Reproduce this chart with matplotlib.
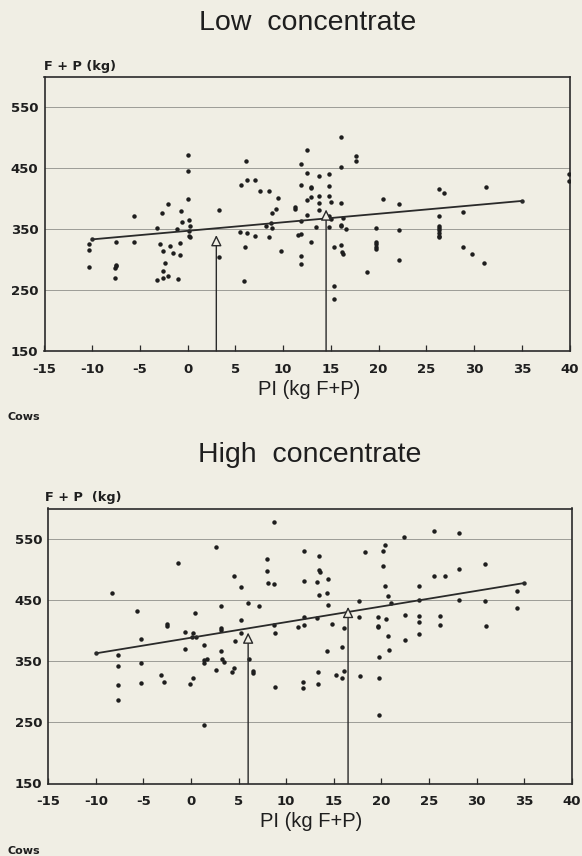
import matplotlib
matplotlib.use("Agg")
import matplotlib.pyplot as plt

plt.rcParams['axes.unicode_minus'] = False

# ---------------- data ----------------
low_x = [0.0, 0.0, 6.15, 6.18, 7.02, 5.59, 7.55, 8.53, 9.44, 0.0, -2.08, -5.65, -2.64, -0.71,
         3.28, 11.29, 11.29, 9.26, 8.81, -0.61, 0.16, 0.23, -3.17, -1.07, 8.77, 8.21, 8.81,
         11.85, 0.09, 0.09, 0.23, 5.52, 6.18, 7.02, 8.56, 11.54, -10.34, -10.34, -7.54, -5.65,
         -2.89, -1.8, -0.85, -2.57, -1.52, -0.82, 6.04, 9.79, 3.31, -2.33, -10.34, -7.54, -7.54,
         -7.61, -2.57, -2.01, -2.57, -3.17, -1.03, -7.65, 5.9,
         16.06, 12.45, 17.63, 17.63, 11.86, 16.06, 12.45, 13.71, 14.76, 11.86, 12.91, 12.91,
         14.76, 26.28, 26.81, 31.25, 20.43, 22.18, 12.45, 12.91, 13.71, 14.76, 13.71, 15.01,
         16.02, 13.71, 14.76, 15.01, 12.45, 28.84, 16.23, 26.28, 13.43, 14.76, 16.02, 16.09,
         16.62, 19.7, 22.18, 26.28, 26.28, 26.28, 26.28, 26.28, 26.28, 11.86, 12.91, 15.36,
         16.02, 16.2, 16.27, 19.7, 19.7, 19.7, 19.7, 28.84, 29.82, 31.04, 22.18, 11.86, 11.86,
         18.82, 15.36, 15.36, 39.9, 39.9]
low_y = [472, 445, 461, 431, 430, 422, 411.5, 412.6, 400.7, 399, 390.4, 371.4, 376.3, 379,
         381.7, 385.5, 383.3, 382.2, 376.3, 362.2, 365.4, 355.1, 351.4, 350.8, 360, 354.1, 352.4,
         362.7, 347, 338.3, 336.7, 344.8, 343.2, 338.9, 336.7, 340, 324.8, 316.1, 328, 329.1,
         325.3, 322.6, 326.9, 313.4, 310.7, 308, 320.5, 313.4, 304.2, 293.9, 287.9, 291.7, 289,
         286.3, 281.4, 272.8, 268.9, 265.7, 267.9, 268.9, 264.1,
         500.4, 478.7, 469.5, 461.4, 457, 451.1, 441.3, 436.4, 440.2, 421.8, 419.1, 416.9,
         421.3, 415.3, 408.3, 419.1, 399, 390.4, 398, 401.8, 403.4, 403.4, 392.5, 394.7,
         393.1, 381.7, 371.9, 367.1, 373, 377.9, 367.6, 370.9, 353, 353, 356.8, 354.1,
         349.7, 351.9, 348.1, 355.7, 351.9, 347.6, 343.2, 338.9, 336.2, 341.6, 328, 319.9,
         323.7, 312.3, 309.6, 329.1, 324.8, 320.5, 317.2, 320.5, 309.6, 294.4, 298.8, 305.3, 293.4,
         279.3, 255.9, 235.4, 440.8, 428.9]
low_line_x = [-10, 35]
low_line_y = [333, 396]
low_arrow_x = [3, 14.5]
low_arrow_y = [340, 382]

high_x = [8.72, 2.60, -1.32, 8.02, 7.95, 4.48, 5.21, 8.06, 8.75, -8.30, 6.01, 3.13, 7.12, -5.63,
          0.45, 5.24, -2.50, -2.50, 3.19, 3.19, 8.75, 11.25, -0.59, 0.17, 0.52, 0.10, 5.28, 8.85,
          -7.64, -7.64, -5.24, -5.24, 1.35, 4.62, -0.59, 3.19, 1.35, 1.35, 1.70, 3.23, 3.44, 2.60,
          4.34, 4.55, 6.04, 6.49, 6.49, -3.19, -2.88, 0.17, -0.07, -5.21, -7.64, -7.64, 8.85, 1.32,
          22.41, 25.49, 28.15, 11.85, 13.46, 18.29, 20.17, 20.38, 20.17, 13.46, 13.50, 11.85,
          13.25, 14.44, 25.49, 26.64, 28.15, 30.84, 20.38, 23.99, 13.46, 14.27, 14.44, 17.69,
          20.73, 20.98, 23.99, 28.15, 30.84, 34.20, 34.20, 11.85, 13.25, 11.85, 14.86, 16.08,
          17.69, 19.69, 19.69, 19.69, 20.45, 22.48, 23.99, 23.99, 23.99, 26.19, 26.19, 31.01,
          20.73, 22.48, 14.27, 15.91, 20.77, 19.72, 13.32, 13.32, 11.75, 11.75, 15.21, 15.91,
          16.08, 17.73, 19.72, 19.72]
high_y = [578.5, 536.3, 511.1, 517.7, 498.5, 490.3, 472.3, 478.3, 476.7, 461.9, 445.5, 441.1, 440.0,
          431.8, 429.0, 417.0, 411.0, 407.1, 405.0, 401.2, 409.3, 406.0, 397.3, 396.7, 389.1, 389.1,
          396.2, 396.7, 359.5, 342.6, 386.3, 347.5, 376.5, 383.1, 369.4, 367.2, 351.5, 347.5, 353.2,
          353.2, 348.6, 336.0, 332.2, 338.2, 353.7, 334.9, 331.1, 328.3, 315.7, 322.9, 312.5, 315.2,
          310.8, 286.7, 308.6, 245.7,
          553.8, 563.1, 559.3, 529.8, 522.2, 529.3, 530.9, 539.6, 506.4, 499.3, 496.5, 481.3,
          479.1, 484.5, 489.4, 489.4, 500.4, 509.6, 472.5, 473.1, 458.9, 462.2, 441.4, 448.5,
          456.7, 444.7, 450.2, 449.6, 448.0, 465.4, 437.6, 421.8, 421.3, 409.3, 410.3, 403.8,
          421.8, 421.8, 408.2, 406.0, 419.6, 426.2, 423.4, 414.2, 394.5, 423.4, 409.3, 408.2,
          391.2, 384.7, 367.2, 373.2, 367.8, 357.4, 332.9, 312.7, 315.4, 305.6, 327.9, 322.0,
          334.5, 326.3, 322.5, 261.4]
high_line_x = [-10, 35]
high_line_y = [363, 478]
high_arrow_x = [6, 16.5]
high_arrow_y = [397, 439]

x_ticks = [-15, -10, -5, 0, 5, 10, 15, 20, 25, 30, 35, 40]
y_ticks = [150, 250, 350, 450, 550]

# ---------------- style ----------------
BG = '#f0eee4'
INK = '#1e1e1e'
W, H = 582, 856

fig = plt.figure(figsize=(W / 100, H / 100), dpi=100, facecolor=BG)


def fx(px):
    return px / W


def fy(py):
    return 1 - py / H


def panel(rect, xs, ys, lx, ly, axx, axy):
    ax = fig.add_axes(rect, facecolor=BG)
    ax.set_xlim(-15, 40)
    ax.set_ylim(150, 600)
    for yv in y_ticks[1:]:
        ax.axhline(yv, color='#9c9c96', lw=0.7, zorder=1)
    ax.plot(xs, ys, 'o', ms=2.2, color=INK, mec=INK, zorder=3, clip_on=True)
    ax.plot(lx, ly, '-', color='#2a2a2a', lw=1.3, marker='o', ms=2.2, zorder=4)
    for x0, y0 in zip(axx, axy):
        ax.annotate('', xy=(x0, y0), xytext=(x0, 150),
                    arrowprops=dict(arrowstyle='-|>,head_length=0.65,head_width=0.32',
                                    fc=BG, ec='#2a2a2a', lw=1.0,
                                    shrinkA=0, shrinkB=0), zorder=5)
    ax.set_xticks(x_ticks)
    ax.set_xticklabels([str(t) for t in x_ticks])
    ax.set_yticks(y_ticks)
    ax.set_yticklabels([str(t) for t in y_ticks])
    ax.tick_params(axis='x', direction='in', length=4.5, width=0.9, color='#2a2a2a',
                   pad=8.5, labelsize=9.5, labelcolor=INK)
    ax.tick_params(axis='y', length=0, pad=4.5, labelsize=9.5, labelcolor=INK)
    for lab in ax.get_xticklabels() + ax.get_yticklabels():
        lab.set_fontfamily('DejaVu Sans')
        lab.set_fontweight('bold')
    for s in ax.spines.values():
        s.set_color('#2a2a2a')
        s.set_linewidth(1.2)
    return ax


# top panel
panel([fx(44.5), fy(351), fx(525), 274.5 / H], low_x, low_y,
      low_line_x, low_line_y, low_arrow_x, low_arrow_y)
# bottom panel
panel([fx(48.3), fy(783.5), fx(523.4), 275 / H], high_x, high_y,
      high_line_x, high_line_y, high_arrow_x, high_arrow_y)

title_kw = dict(family='Liberation Sans', fontsize=20.5, color=INK, ha='center', va='baseline')
fig.text(fx(308), fy(30.5), 'Low  concentrate', **title_kw)
fig.text(fx(310), fy(462), 'High  concentrate', **title_kw)

lab_kw = dict(family='DejaVu Sans', fontweight='bold', fontsize=9.3, color=INK,
              ha='left', va='baseline')
fig.text(fx(43.5), fy(70), 'F + P (kg)', **lab_kw)
fig.text(fx(45), fy(501.5), 'F + P  (kg)', **lab_kw)

xl_kw = dict(family='Liberation Sans', fontsize=14.5, color=INK, ha='center', va='baseline')
fig.text(fx(309), fy(395), 'PI (kg F+P)', **xl_kw)
fig.text(fx(311), fy(827), 'PI (kg F+P)', **xl_kw)

cows_kw = dict(family='DejaVu Sans', fontweight='bold', fontsize=8, color=INK,
               ha='left', va='baseline')
fig.text(fx(7), fy(420), 'Cows', **cows_kw)
fig.text(fx(7), fy(854), 'Cows', **cows_kw)

fig.savefig('out.png', dpi=100, facecolor=BG)
